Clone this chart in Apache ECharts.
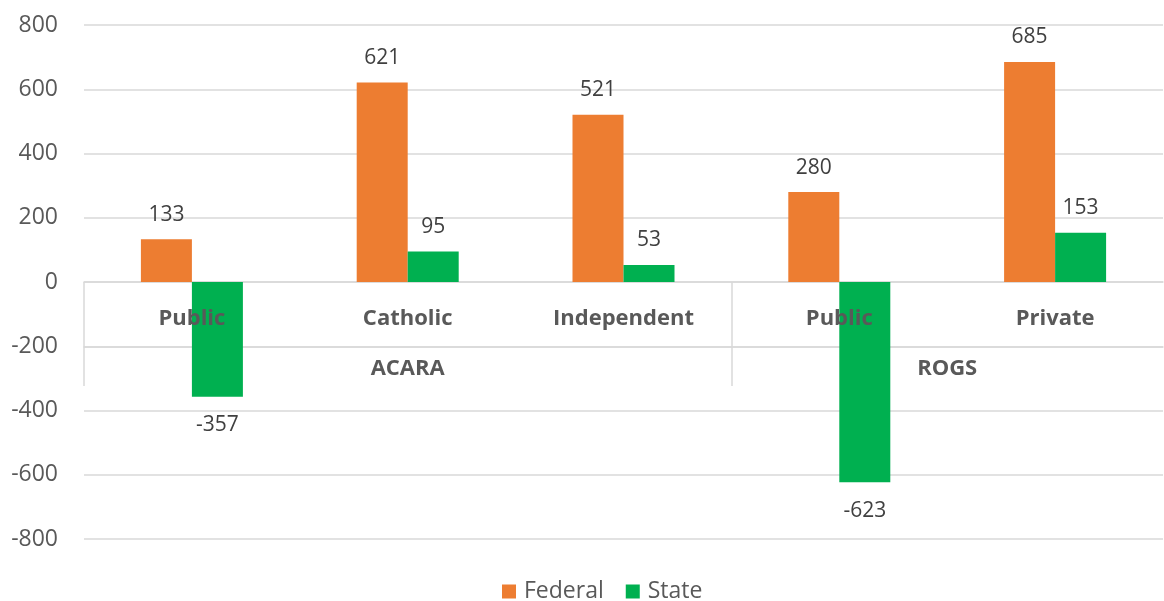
<!DOCTYPE html>
<html>
<head>
<meta charset="utf-8">
<script src="https://cdn.jsdelivr.net/npm/echarts@6/dist/echarts.min.js"></script>
<style>html,body{margin:0;padding:0;background:#fff}#c{width:1164px;height:601px}</style>
</head>
<body>
<div id="c"></div>
<script>
var categories = ['Public', 'Catholic', 'Independent', 'Public', 'Private'];
var groups = ['ACARA', 'ROGS'];
var groupSizes = [3, 2];
var federal = [133, 621, 521, 280, 685];
var state = [-357, 95, 53, -623, 153];
var yTicks = [-800, -600, -400, -200, 0, 200, 400, 600, 800];

var FONT = 'Open Sans';
var boundaries = [0];
var groupCenters = [];
var acc = 0;
groupSizes.forEach(function (s) { groupCenters.push(acc + s / 2); acc += s; boundaries.push(acc); });
var groupTickVals = boundaries.slice(0, boundaries.length - 1);

// layout of the plot (pixels)
var GRID_TOP = 25, GRID_BOTTOM = 62, H = 601;
var plotH = H - GRID_TOP - GRID_BOTTOM;
var yMin = yTicks[0], yMax = yTicks[yTicks.length - 1];
var zeroOffset = -plotH * (0 - yMin) / (yMax - yMin);   // moves bottom axis up to y=0

var chart = echarts.init(document.getElementById('c'));
chart.setOption({
  animation: false,
  grid: { left: 84, right: 1, top: GRID_TOP, bottom: GRID_BOTTOM, containLabel: false, outerBoundsMode: 'none' },
  legend: {
    top: 575, left: 497, itemWidth: 14, itemHeight: 14, itemGap: 22,
    icon: 'rect',
    textStyle: { fontFamily: FONT, fontSize: 23, color: '#595959', padding: [0, 0, 0, 3] },
    data: ['Federal', 'State']
  },
  xAxis: [
    {
      type: 'category', data: categories, position: 'bottom', offset: zeroOffset, z: 10,
      axisLine: { show: false, onZero: false },
      axisTick: { show: false },
      axisLabel: { fontFamily: FONT, fontWeight: 'bold', fontSize: 22, color: '#595959', margin: 26 }
    },
    {
      type: 'value', min: 0, max: categories.length, position: 'bottom', offset: zeroOffset,
      axisLine: { show: true, onZero: false, lineStyle: { color: '#d9d9d9', width: 1.5 } },
      splitLine: { show: false },
      axisTick: { show: true, length: 104, customValues: groupTickVals, lineStyle: { color: '#d9d9d9', width: 1.5 } },
      axisLabel: {
        show: true, customValues: groupCenters, margin: 76,
        fontFamily: FONT, fontWeight: 'bold', fontSize: 22, color: '#595959',
        formatter: function (v) {
          var i = groupCenters.indexOf(v);
          return i >= 0 ? groups[i] : '';
        }
      }
    },
    {
      type: 'value', min: 0, max: categories.length, position: 'bottom', offset: zeroOffset + 65,
      axisLine: { show: true, onZero: false, lineStyle: { color: '#d9d9d9', width: 1.5 } },
      axisTick: { show: false }, axisLabel: { show: false }, splitLine: { show: false }
    }
  ],
  yAxis: {
    type: 'value', min: yMin, max: yMax, interval: 200,
    axisLine: { show: false }, axisTick: { show: false },
    splitLine: { lineStyle: { color: '#d9d9d9', width: 1.5 } },
    axisLabel: { fontFamily: FONT, fontSize: 23, color: '#595959', margin: 26 }
  },
  series: [
    {
      name: 'Federal', type: 'bar', data: federal, barWidth: 51, barGap: '0%',
      itemStyle: { color: '#ED7D31' },
      label: { show: true, position: 'top', distance: 14, fontFamily: FONT, fontSize: 21, color: '#404040' }
    },
    {
      name: 'State', type: 'bar', barWidth: 51, barGap: '0%',
      data: state.map(function (v) {
        return { value: v, label: { position: v < 0 ? 'bottom' : 'top', distance: v < 0 ? 18 : 14 } };
      }),
      itemStyle: { color: '#00B050' },
      label: { show: true, fontFamily: FONT, fontSize: 21, color: '#404040', distance: 14 }
    }
  ]
});
</script>
</body>
</html>
